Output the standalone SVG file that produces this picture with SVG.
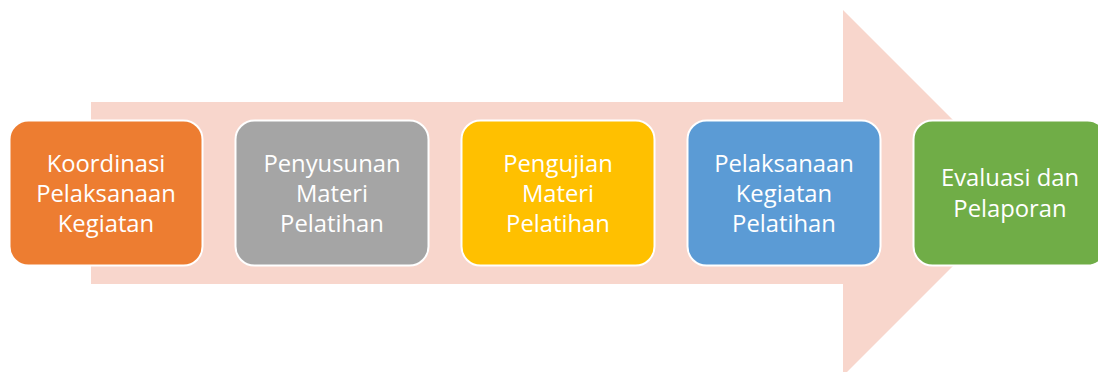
<svg xmlns="http://www.w3.org/2000/svg" width="1098" height="372" viewBox="0 0 1098 372">
<style>
.box{stroke:#FFFFFF;stroke-width:2}
.t{font-family:"Open Sans","Liberation Sans",sans-serif;font-size:23.8px;fill:#FFFFFF;text-anchor:middle}
</style>
<rect width="1098" height="372" fill="#FFFFFF"/>
<g id="arrow">
<polygon points="91,102 843,102 843,10 1026,193 843,376 843,284 91,284" fill="#F8D6CC"/>
</g>
<g id="connectors"></g>
<g id="node1">
<rect class="box" x="9.5" y="120.5" width="193" height="145" rx="19" fill="#ED7D31"/>
<text class="t" x="106" y="172">Koordinasi</text>
<text class="t" x="106" y="202">Pelaksanaan</text>
<text class="t" x="106" y="232">Kegiatan</text>
</g>
<g id="node2">
<rect class="box" x="235.5" y="120.5" width="193" height="145" rx="19" fill="#A5A5A5"/>
<text class="t" x="332" y="172">Penyusunan</text>
<text class="t" x="332" y="202">Materi</text>
<text class="t" x="332" y="232">Pelatihan</text>
</g>
<g id="node3">
<rect class="box" x="461.5" y="120.5" width="193" height="145" rx="19" fill="#FFC000"/>
<text class="t" x="558" y="172">Pengujian</text>
<text class="t" x="558" y="202">Materi</text>
<text class="t" x="558" y="232">Pelatihan</text>
</g>
<g id="node4">
<rect class="box" x="687.5" y="120.5" width="193" height="145" rx="19" fill="#5B9BD5"/>
<text class="t" x="784" y="172">Pelaksanaan</text>
<text class="t" x="784" y="202">Kegiatan</text>
<text class="t" x="784" y="232">Pelatihan</text>
</g>
<g id="node5">
<rect class="box" x="913.5" y="120.5" width="193" height="145" rx="19" fill="#70AD47"/>
<text class="t" x="1010" y="186">Evaluasi dan</text>
<text class="t" x="1010" y="217">Pelaporan</text>
</g>
</svg>
